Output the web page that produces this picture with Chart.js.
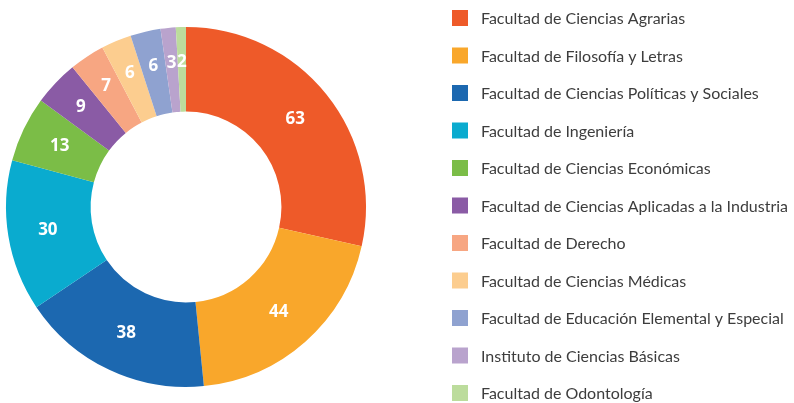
<!DOCTYPE html>
<html>
<head>
<meta charset="utf-8">
<script src="https://cdn.jsdelivr.net/npm/chart.js@4.4.0/dist/chart.umd.min.js"></script>
<style>
  html, body { margin: 0; padding: 0; background: #fff; }
  #wrap { width: 794px; height: 403px; }
</style>
</head>
<body>
<div id="wrap"><canvas id="myChart" width="794" height="403"></canvas></div>
<script>
const labels = [
  "Facultad de Ciencias Agrarias",
  "Facultad de Filosofía y Letras",
  "Facultad de Ciencias Políticas y Sociales",
  "Facultad de Ingeniería",
  "Facultad de Ciencias Económicas",
  "Facultad de Ciencias Aplicadas a la Industria",
  "Facultad de Derecho",
  "Facultad de Ciencias Médicas",
  "Facultad de Educación Elemental y Especial",
  "Instituto de Ciencias Básicas",
  "Facultad de Odontología"
];
const values = [63, 44, 38, 30, 13, 9, 7, 6, 6, 3, 2];
const colors = [
  "#ee5a29", "#f9a72b", "#1c68b0", "#0aabcf", "#7bbd47", "#8a5ba5",
  "#f7a682", "#fccd8f", "#8fa2d0", "#b9a3cd", "#bcdc9c"
];

// white numbers inside each slice
const sliceLabels = {
  id: "sliceLabels",
  afterDatasetsDraw(chart) {
    const ctx = chart.ctx;
    const meta = chart.getDatasetMeta(0);
    ctx.save();
    ctx.fillStyle = "#ffffff";
    ctx.font = "bold 17px 'Open Sans'";
    ctx.textAlign = "center";
    ctx.textBaseline = "middle";
    meta.data.forEach((arc, i) => {
      const mid = (arc.startAngle + arc.endAngle) / 2;
      const r = values[i] < 10 ? arc.outerRadius - 35 : arc.outerRadius - 40;
      ctx.fillText(values[i], arc.x + Math.cos(mid) * r, arc.y + Math.sin(mid) * r);
    });
    ctx.restore();
  }
};

// legend list on the right
const sideLegend = {
  id: "sideLegend",
  afterDraw(chart) {
    const ctx = chart.ctx;
    ctx.save();
    ctx.font = "16px Lato";
    ctx.textBaseline = "middle";
    ctx.textAlign = "left";
    labels.forEach((lab, i) => {
      const y = 18 + i * 37.5;
      ctx.fillStyle = colors[i];
      ctx.fillRect(452, y - 8, 16, 16);
      ctx.fillStyle = "#3d3d3d";
      ctx.fillText(lab, 481, y + 1);
    });
    ctx.restore();
  }
};

const ctx = document.getElementById("myChart").getContext("2d");
const myChart = new Chart(ctx, {
  type: "doughnut",
  data: {
    labels: labels,
    datasets: [{
      data: values,
      backgroundColor: colors,
      borderWidth: 0
    }]
  },
  options: {
    responsive: false,
    animation: false,
    cutout: "53%",
    layout: { padding: { left: 6, right: 428, top: 27, bottom: 16 } },
    plugins: {
      legend: { display: false },
      tooltip: { enabled: false }
    }
  },
  plugins: [sliceLabels, sideLegend]
});
</script>
</body>
</html>
